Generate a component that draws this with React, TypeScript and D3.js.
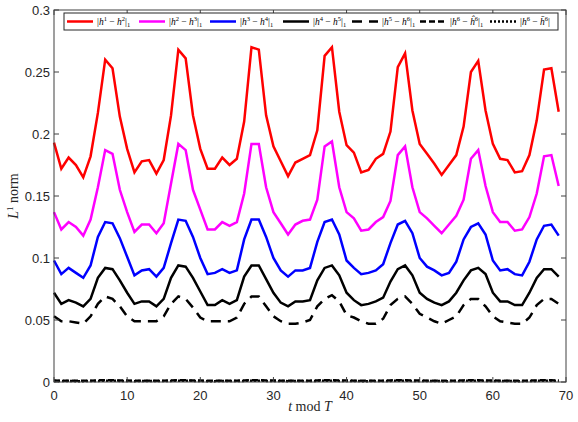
import React from 'react';
import * as d3 from 'd3';

// series values, t = 0..69
const h12 = [0.193, 0.172, 0.181, 0.175, 0.165, 0.182, 0.217, 0.260, 0.253, 0.214,
  0.188, 0.169, 0.178, 0.179, 0.168, 0.179, 0.215, 0.268, 0.261, 0.215,
  0.188, 0.172, 0.172, 0.181, 0.175, 0.180, 0.210, 0.270, 0.268, 0.215,
  0.190, 0.178, 0.166, 0.177, 0.180, 0.183, 0.203, 0.263, 0.270, 0.218,
  0.191, 0.185, 0.169, 0.171, 0.180, 0.184, 0.202, 0.254, 0.265, 0.219,
  0.192, 0.184, 0.176, 0.167, 0.175, 0.183, 0.206, 0.250, 0.259, 0.219,
  0.192, 0.180, 0.179, 0.169, 0.170, 0.183, 0.211, 0.252, 0.253, 0.218];
const h23 = [0.137, 0.123, 0.129, 0.125, 0.118, 0.131, 0.157, 0.187, 0.184, 0.155,
  0.137, 0.121, 0.127, 0.127, 0.120, 0.128, 0.160, 0.192, 0.187, 0.155,
  0.139, 0.123, 0.123, 0.129, 0.126, 0.129, 0.152, 0.192, 0.192, 0.157,
  0.137, 0.128, 0.119, 0.127, 0.130, 0.131, 0.147, 0.190, 0.194, 0.157,
  0.137, 0.132, 0.122, 0.123, 0.129, 0.133, 0.146, 0.183, 0.190, 0.157,
  0.137, 0.132, 0.126, 0.120, 0.127, 0.134, 0.147, 0.180, 0.187, 0.158,
  0.137, 0.129, 0.129, 0.122, 0.123, 0.133, 0.152, 0.182, 0.183, 0.158];
const h34 = [0.098, 0.087, 0.092, 0.088, 0.084, 0.094, 0.117, 0.129, 0.128, 0.116,
  0.101, 0.086, 0.090, 0.091, 0.085, 0.092, 0.112, 0.131, 0.130, 0.117,
  0.100, 0.087, 0.088, 0.091, 0.088, 0.090, 0.115, 0.131, 0.131, 0.117,
  0.100, 0.090, 0.085, 0.090, 0.090, 0.092, 0.113, 0.129, 0.131, 0.119,
  0.098, 0.092, 0.087, 0.088, 0.090, 0.095, 0.112, 0.127, 0.130, 0.120,
  0.100, 0.093, 0.090, 0.086, 0.088, 0.097, 0.115, 0.125, 0.128, 0.119,
  0.098, 0.090, 0.091, 0.087, 0.086, 0.097, 0.115, 0.126, 0.127, 0.118];
const h45 = [0.072, 0.063, 0.066, 0.064, 0.061, 0.067, 0.084, 0.092, 0.091, 0.082,
  0.072, 0.063, 0.065, 0.065, 0.061, 0.067, 0.084, 0.094, 0.093, 0.084,
  0.073, 0.062, 0.062, 0.066, 0.063, 0.066, 0.085, 0.094, 0.094, 0.083,
  0.072, 0.064, 0.061, 0.065, 0.065, 0.066, 0.082, 0.092, 0.094, 0.086,
  0.072, 0.066, 0.062, 0.063, 0.065, 0.068, 0.081, 0.091, 0.094, 0.086,
  0.072, 0.067, 0.064, 0.062, 0.065, 0.072, 0.082, 0.090, 0.092, 0.087,
  0.072, 0.065, 0.065, 0.062, 0.062, 0.072, 0.084, 0.091, 0.091, 0.085];
const h56 = [0.053, 0.049, 0.049, 0.048, 0.047, 0.053, 0.063, 0.069, 0.067, 0.061,
  0.053, 0.049, 0.049, 0.049, 0.049, 0.053, 0.063, 0.069, 0.067, 0.060,
  0.052, 0.049, 0.049, 0.049, 0.049, 0.052, 0.063, 0.069, 0.069, 0.061,
  0.053, 0.049, 0.047, 0.047, 0.048, 0.050, 0.061, 0.067, 0.070, 0.065,
  0.054, 0.052, 0.049, 0.047, 0.047, 0.051, 0.062, 0.067, 0.069, 0.063,
  0.055, 0.052, 0.049, 0.047, 0.050, 0.053, 0.062, 0.067, 0.067, 0.061,
  0.053, 0.049, 0.048, 0.047, 0.047, 0.052, 0.062, 0.067, 0.067, 0.063];
const h6hat = [0.0012, 0.0010, 0.0011, 0.0010, 0.0010, 0.0011, 0.0013, 0.0014, 0.0014, 0.0012,
  0.0012, 0.0010, 0.0011, 0.0011, 0.0010, 0.0011, 0.0013, 0.0014, 0.0014, 0.0012,
  0.0012, 0.0010, 0.0010, 0.0011, 0.0010, 0.0011, 0.0013, 0.0014, 0.0014, 0.0012,
  0.0012, 0.0011, 0.0010, 0.0011, 0.0011, 0.0011, 0.0013, 0.0014, 0.0014, 0.0012,
  0.0012, 0.0011, 0.0010, 0.0010, 0.0011, 0.0011, 0.0013, 0.0014, 0.0014, 0.0012,
  0.0012, 0.0011, 0.0011, 0.0010, 0.0010, 0.0011, 0.0013, 0.0014, 0.0014, 0.0012,
  0.0012, 0.0011, 0.0011, 0.0010, 0.0010, 0.0011, 0.0013, 0.0014, 0.0014, 0.0012];
const h6bar = [0.0008, 0.0007, 0.0008, 0.0007, 0.0007, 0.0008, 0.0009, 0.0010, 0.0010, 0.0009,
  0.0008, 0.0007, 0.0008, 0.0008, 0.0007, 0.0008, 0.0009, 0.0010, 0.0010, 0.0009,
  0.0008, 0.0007, 0.0007, 0.0008, 0.0007, 0.0008, 0.0009, 0.0010, 0.0010, 0.0009,
  0.0008, 0.0008, 0.0007, 0.0008, 0.0008, 0.0008, 0.0009, 0.0010, 0.0010, 0.0009,
  0.0008, 0.0008, 0.0007, 0.0007, 0.0008, 0.0008, 0.0009, 0.0010, 0.0010, 0.0009,
  0.0008, 0.0008, 0.0008, 0.0007, 0.0007, 0.0008, 0.0009, 0.0010, 0.0010, 0.0009,
  0.0008, 0.0008, 0.0008, 0.0007, 0.0007, 0.0008, 0.0009, 0.0010, 0.0010, 0.0009];

const xTicks = [0, 10, 20, 30, 40, 50, 60, 70];
const yTicks = [0, 0.05, 0.1, 0.15, 0.2, 0.25, 0.3];

const width = 578;
const height = 422;
const m = { left: 54, right: 12, top: 10, bottom: 40 };

const series = [
  { values: h12, color: '#ff0000', dash: '', sup: ['1', '2'], acc: '', sub: true },
  { values: h23, color: '#ff00ff', dash: '', sup: ['2', '3'], acc: '', sub: true },
  { values: h34, color: '#0000ff', dash: '', sup: ['3', '4'], acc: '', sub: true },
  { values: h45, color: '#000000', dash: '', sup: ['4', '5'], acc: '', sub: true },
  { values: h56, color: '#000000', dash: '10,7', sup: ['5', '6'], acc: '', sub: true },
  { values: h6hat, color: '#000000', dash: '6,3', sup: ['6', '6'], acc: 'hat', sub: true },
  { values: h6bar, color: '#000000', dash: '2,2', sup: ['6', '6'], acc: 'bar', sub: false },
];

// legend entry x positions (line start)
const legendX = [67, 139, 210, 283, 352, 420, 490];

const mathFont = '"Liberation Serif", "DejaVu Serif", serif';

function Label({ s, x, y }: { s: typeof series[number]; x: number; y: number }) {
  const second = s.acc === 'hat' ? 'ĥ' : s.acc === 'bar' ? 'h\u0304' : 'h';
  return (
    <text x={x} y={y} fontFamily={mathFont} fontSize={9.5} fill="#000">
      <tspan>|</tspan>
      <tspan fontStyle="italic">h</tspan>
      <tspan fontSize={6.5} dy={-4}>{s.sup[0]}</tspan>
      <tspan dy={4}> − </tspan>
      <tspan fontStyle="italic">{second}</tspan>
      <tspan fontSize={6.5} dy={-4}>{s.sup[1]}</tspan>
      <tspan dy={4}>|</tspan>
      {s.sub ? <tspan fontSize={6.5} dy={2}>1</tspan> : null}
    </text>
  );
}

export default function App() {
  const x = d3.scaleLinear().domain([0, 70]).range([m.left, width - m.right]);
  const y = d3.scaleLinear().domain([0, 0.3]).range([height - m.bottom, m.top]);
  const line = d3.line<number>().x((_, i) => x(i)).y(d => y(d));
  const axisColor = '#404040';
  const tickFont = '"Liberation Sans", Arial, sans-serif';
  const x0 = x(0), x1 = x(70), y0 = y(0), y1 = y(0.3);

  return (
    <svg width={width} height={height} style={{ position: 'absolute', left: 0, top: 0, background: '#fff' }}>
      <rect x={0} y={0} width={width} height={height} fill="#fff" />
      {/* data lines */}
      {series.slice().reverse().map((s, k) => (
        <path key={k} d={line(s.values) || ''} fill="none" stroke={s.color} strokeWidth={2.5}
          strokeDasharray={s.dash || undefined} strokeLinejoin="miter" />
      ))}
      {/* box */}
      <rect x={x0} y={y1} width={x1 - x0} height={y0 - y1} fill="none" stroke={axisColor} strokeWidth={1} />
      {xTicks.map(t => (
        <g key={'x' + t}>
          <line x1={x(t)} x2={x(t)} y1={y0} y2={y0 - 5} stroke={axisColor} />
          <line x1={x(t)} x2={x(t)} y1={y1} y2={y1 + 5} stroke={axisColor} />
          <text x={x(t)} y={y0 + 18} textAnchor="middle" fontFamily={tickFont} fontSize={13} fill="#262626">{t}</text>
        </g>
      ))}
      {yTicks.map(t => (
        <g key={'y' + t}>
          <line x1={x0} x2={x0 + 5} y1={y(t)} y2={y(t)} stroke={axisColor} />
          <line x1={x1} x2={x1 - 5} y1={y(t)} y2={y(t)} stroke={axisColor} />
          <text x={x0 - 4} y={y(t) + 4.5} textAnchor="end" fontFamily={tickFont} fontSize={13} fill="#262626">{t}</text>
        </g>
      ))}
      {/* axis labels */}
      <text x={(x0 + x1) / 2} y={411} textAnchor="middle" fontFamily={mathFont} fontSize={14} fill="#262626">
        <tspan fontStyle="italic">t</tspan> mod <tspan fontStyle="italic">T</tspan>
      </text>
      <text transform={`translate(18, ${(y0 + y1) / 2}) rotate(-90)`} textAnchor="middle" fontFamily={mathFont} fontSize={14} fill="#262626">
        <tspan fontStyle="italic">L</tspan><tspan fontSize={9} dy={-5}>1</tspan><tspan dy={5}> norm</tspan>
      </text>
      {/* legend */}
      <rect x={64} y={13} width={494} height={17} fill="#fff" stroke="#262626" strokeWidth={1} />
      {series.map((s, k) => (
        <g key={'l' + k}>
          <line x1={legendX[k]} x2={legendX[k] + 26} y1={21.5} y2={21.5} stroke={s.color} strokeWidth={2.5}
            strokeDasharray={s.dash || undefined} />
          <Label s={s} x={legendX[k] + 30} y={25} />
        </g>
      ))}
    </svg>
  );
}
